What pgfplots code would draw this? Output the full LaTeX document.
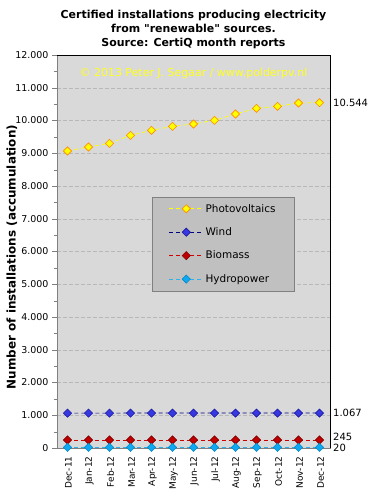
\documentclass[border=0pt]{standalone}
\usepackage{fontspec}
\setmainfont{DejaVu Sans}
\usepackage{pgfplots}
\usepackage{pgfplotstable}
\pgfplotsset{compat=1.18}
\definecolor{pvfill}{HTML}{FFFF00}
\definecolor{pvedge}{HTML}{FF8C00}
\definecolor{pvline}{HTML}{FFFF00}
\definecolor{wdfill}{HTML}{3838E0}
\definecolor{wdedge}{HTML}{1818A0}
\definecolor{wdline}{HTML}{000080}
\definecolor{bmfill}{HTML}{C00000}
\definecolor{bmedge}{HTML}{800000}
\definecolor{bmline}{HTML}{D00000}
\definecolor{hyfill}{HTML}{10A8F0}
\definecolor{hyedge}{HTML}{0088C8}
\definecolor{hyline}{HTML}{30B0E8}
\definecolor{plotbg}{HTML}{D9D9D9}
\definecolor{legbg}{HTML}{C0C0C0}
\definecolor{gridc}{HTML}{B8B8B8}
\definecolor{wmark}{HTML}{FFFF20}
\pgfplotstableread{
x PV Wind Bio Hydro
0 9069 1064 245 20
1 9191 1065 245 20
2 9303 1065 245 20
3 9547 1066 245 20
4 9700 1066 245 20
5 9822 1066 245 20
6 9893 1066 245 20
7 10005 1066 245 20
8 10198 1067 245 20
9 10372 1067 245 20
10 10433 1067 245 20
11 10534 1067 245 20
12 10544 1067 245 20
}\data
\begin{document}
\begin{tikzpicture}
\useasboundingbox (-57bp,-53bp) rectangle (323bp,448bp);
\begin{axis}[
  scale only axis, width=273bp, height=393bp,
  clip=false,
  xmin=-0.5, xmax=12.5, ymin=0, ymax=12000,
  axis background/.style={fill=plotbg},
  xtick={0,...,12},
  xticklabels={Dec-11,Jan-12,Feb-12,Mar-12,Apr-12,May-12,Jun-12,Jul-12,Aug-12,Sep-12,Oct-12,Nov-12,Dec-12},
  x tick label style={rotate=90, anchor=east, font=\fontsize{9}{10}\selectfont, yshift=-1bp},
  xtick style={draw=none},
  ytick={0,1000,...,12000},
  minor ytick={500,1500,...,11500},
  ytick pos=left, xtick pos=bottom,
  tick align=outside,
  major tick length=5bp, minor tick length=3bp,
  ytick style={gray},
  minor tick style={gray},
  y tick label style={font=\fontsize{9.5}{10}\selectfont},
  scaled y ticks=false,
  /pgf/number format/1000 sep={.},
  /pgf/number format/assume math mode=true,
  ymajorgrids,
  major grid style={draw=gridc, dash pattern=on 4bp off 2bp},
  axis line style={gray},
  title={Certified installations producing electricity\\from \textquotedbl renewable\textquotedbl\ sources.\\Source: CertiQ month reports},
  title style={align=center, font=\bfseries\fontsize{11}{14}\selectfont, at={(0.5,1)}, anchor=south, yshift=0bp, inner sep=0pt},
  ylabel={Number of installations (accumulation)},
  ylabel style={at={(axis description cs:-0.165,0.486)}, anchor=center, font=\bfseries\fontsize{12}{12}\selectfont},
  legend style={at={(0.347,0.639)}, anchor=north west, fill=legbg, draw=gray,
    font=\fontsize{10.5}{12}\selectfont, inner xsep=17bp, inner ysep=5bp, row sep=10bp,
    /tikz/every even column/.append style={column sep=6bp}},
  legend cell align=left,
  legend image code/.code={\draw[mark repeat=2, mark phase=2] plot coordinates {(0bp,0bp) (17bp,0bp) (34bp,0bp)};},
  every axis plot/.append style={dash pattern=on 4bp off 3bp, line width=0.7bp, mark size=2.9bp},
]
\addplot[pvline, mark=square*, mark options={solid, rotate=45, fill=pvfill, draw=pvedge, line width=0.6bp}] table[x=x, y=PV] {\data};
\addlegendentry{Photovoltaics}
\addplot[wdline, mark=square*, mark options={solid, rotate=45, fill=wdfill, draw=wdedge, line width=0.6bp}] table[x=x, y=Wind] {\data};
\addlegendentry{Wind}
\addplot[bmline, mark=square*, mark options={solid, rotate=45, fill=bmfill, draw=bmedge, line width=0.6bp}] table[x=x, y=Bio] {\data};
\addlegendentry{Biomass}
\addplot[hyline, mark=square*, mark options={solid, rotate=45, fill=hyfill, draw=hyedge, line width=0.6bp}] table[x=x, y=Hydro] {\data};
\addlegendentry{Hydropower}
\draw[black, line width=0.8bp] (rel axis cs:0,1) -- (rel axis cs:1,1) -- (rel axis cs:1,0);
\node[text=wmark, font=\fontsize{11}{12}\selectfont] at (rel axis cs:0.5,0.954) {© 2013 Peter J. Segaar / www.polderpv.nl};
\node[anchor=west, font=\fontsize{10}{10}\selectfont, inner sep=0pt] at (axis cs:12.5,10544) [xshift=3bp] {10.544};
\node[anchor=west, font=\fontsize{10}{10}\selectfont, inner sep=0pt] at (axis cs:12.5,1067) [xshift=3bp] {1.067};
\node[anchor=west, font=\fontsize{10}{10}\selectfont, inner sep=0pt] at (axis cs:12.5,245) [xshift=3bp, yshift=3bp] {245};
\node[anchor=west, font=\fontsize{10}{10}\selectfont, inner sep=0pt] at (axis cs:12.5,20) [xshift=3bp, yshift=-1bp] {20};
\end{axis}
\end{tikzpicture}
\end{document}
